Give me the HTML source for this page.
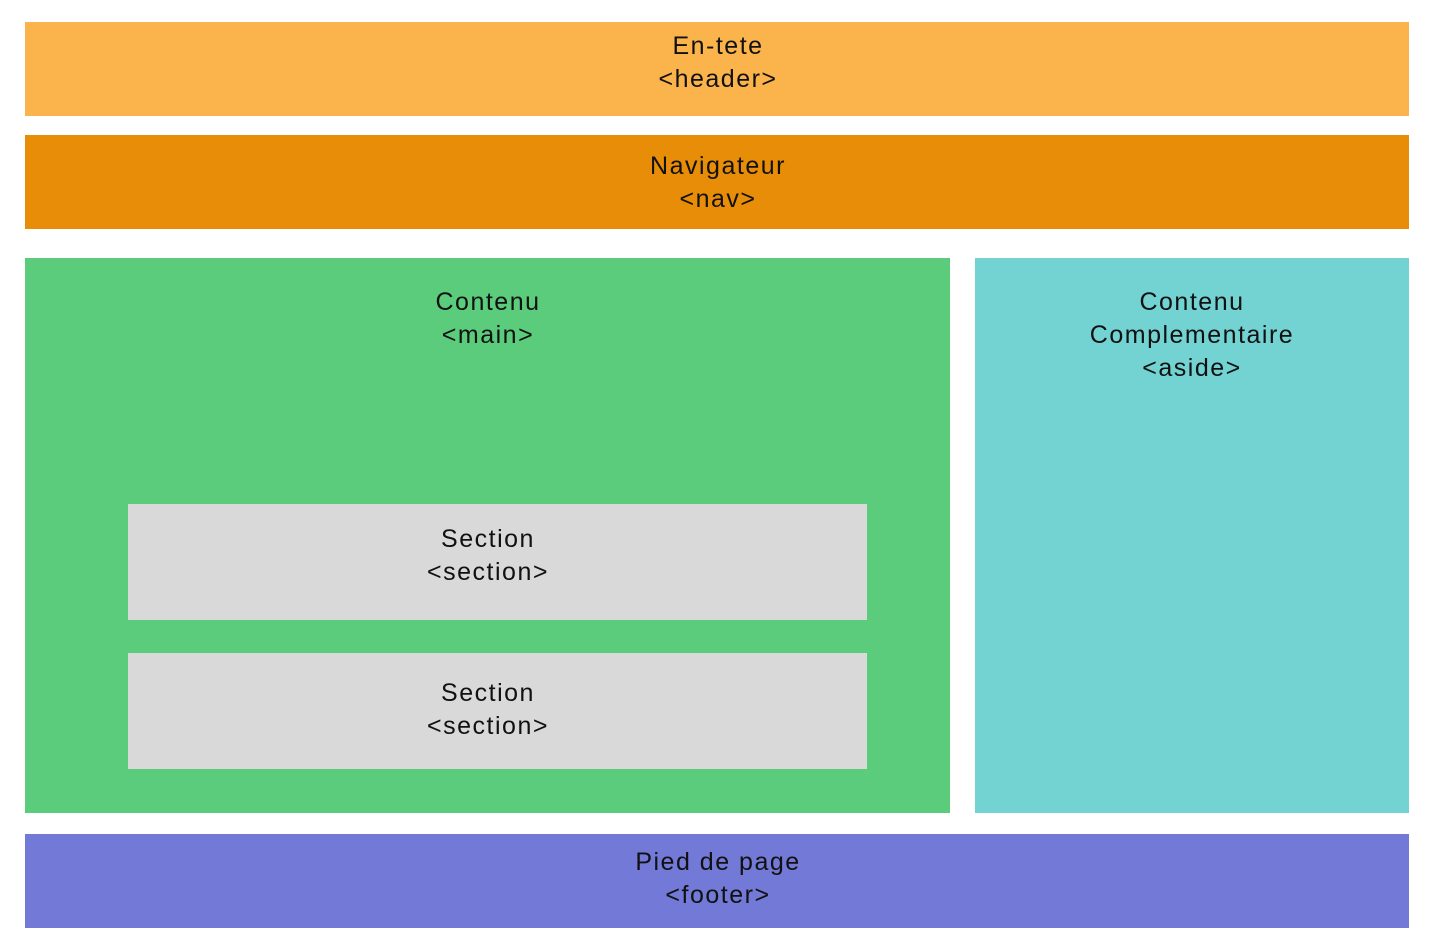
<!DOCTYPE html>
<html><head><meta charset="utf-8"><style>
body{margin:0;width:1435px;height:951px;background:#fff;position:relative;overflow:hidden;font-family:"Liberation Sans",sans-serif;}
.b{position:absolute;}
.t{position:absolute;text-align:center;font-size:25px;letter-spacing:1.5px;line-height:33px;color:#111;white-space:nowrap;transform:translateX(-50%);}
</style></head><body>
<div class="b" style="left:25px;top:22px;width:1384px;height:94px;background:#FBB44C"></div>
<div class="t" style="left:718px;top:30px">En-tete<br>&lt;header&gt;</div>
<div class="b" style="left:25px;top:135px;width:1384px;height:94px;background:#E88D07"></div>
<div class="t" style="left:718px;top:150px">Navigateur<br>&lt;nav&gt;</div>
<div class="b" style="left:25px;top:258px;width:925px;height:555px;background:#5BCC7B"></div>
<div class="t" style="left:488px;top:286px">Contenu<br>&lt;main&gt;</div>
<div class="b" style="left:975px;top:258px;width:434px;height:555px;background:#72D3D2"></div>
<div class="t" style="left:1192px;top:286px">Contenu<br>Complementaire<br>&lt;aside&gt;</div>
<div class="b" style="left:128px;top:504px;width:739px;height:116px;background:#D9D9D9"></div>
<div class="t" style="left:488px;top:523px">Section<br>&lt;section&gt;</div>
<div class="b" style="left:128px;top:653px;width:739px;height:116px;background:#D9D9D9"></div>
<div class="t" style="left:488px;top:677px">Section<br>&lt;section&gt;</div>
<div class="b" style="left:25px;top:834px;width:1384px;height:94px;background:#7379D6"></div>
<div class="t" style="left:718px;top:846px">Pied de page<br>&lt;footer&gt;</div>
</body></html>
